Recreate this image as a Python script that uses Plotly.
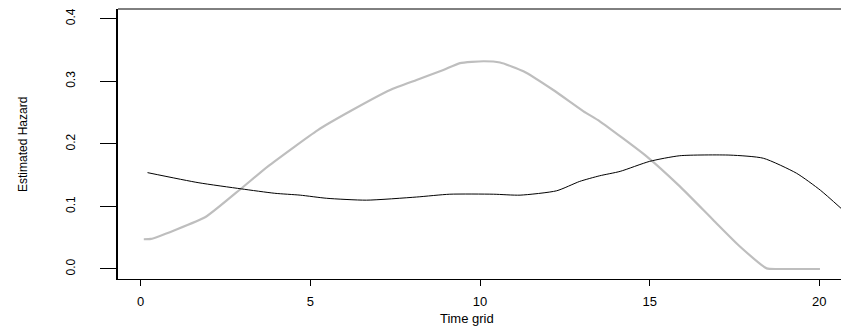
import plotly.graph_objects as go

# Gray curve (estimated hazard, series 1)
gray_t = [0.09, 0.3, 1.0, 1.91, 2.97, 3.75, 5.22, 6.17, 7.35, 8.13, 8.92, 9.41, 10.1,
          10.59, 11.28, 12.16, 13.05, 13.53, 14.91, 15.89, 16.88, 17.66, 18.45, 18.75,
          19.3, 20.02]
gray_h = [0.0475, 0.048, 0.062, 0.083, 0.129, 0.164, 0.222, 0.252, 0.286, 0.302, 0.318,
          0.329, 0.332, 0.330, 0.316, 0.286, 0.252, 0.236, 0.180, 0.132, 0.078, 0.036,
          0.001, 0.0, 0.0, 0.0]

# Black curve (estimated hazard, series 2)
black_t = [0.2, 1.69, 2.97, 3.95, 4.7, 5.48, 6.65, 8.13, 9.11, 10.4, 11.18, 12.26, 12.94,
           13.53, 14.13, 15.0, 15.89, 17.37, 18.35, 19.33, 20.03, 20.64]
black_h = [0.154, 0.138, 0.128, 0.121, 0.118, 0.113, 0.110, 0.115, 0.1195, 0.1195, 0.118,
           0.125, 0.140, 0.149, 0.156, 0.172, 0.181, 0.182, 0.177, 0.153, 0.126, 0.097]

x_ticks = [0, 5, 10, 15, 20]
y_ticks = [0.0, 0.1, 0.2, 0.3, 0.4]
y_tick_text = ["0.0", "0.1", "0.2", "0.3", "0.4"]

fig = go.Figure()
fig.add_trace(go.Scatter(x=gray_t, y=gray_h, mode="lines",
                         line=dict(color="#bebebe", width=2.2, shape="spline", smoothing=0.5),
                         showlegend=False))
fig.add_trace(go.Scatter(x=black_t, y=black_h, mode="lines",
                         line=dict(color="black", width=1, shape="spline", smoothing=0.6),
                         showlegend=False))

fig.update_layout(
    width=841, height=326,
    margin=dict(l=118, r=0, t=9, b=47),
    paper_bgcolor="white", plot_bgcolor="white",
    font=dict(family="Liberation Sans, Arial, sans-serif", color="black"),
    xaxis=dict(range=[-0.67, 20.64], tickvals=x_ticks, ticks="outside", ticklen=6,
               tickcolor="black", tickwidth=1, showline=True, linecolor="black",
               linewidth=1, showgrid=False, zeroline=False,
               tickfont=dict(size=13, family="Liberation Sans, Arial, sans-serif"),
               ticklabelstandoff=4),
    yaxis=dict(range=[-0.016, 0.4155], tickvals=y_ticks, ticktext=y_tick_text,
               ticks="outside", ticklen=16, tickcolor="black", tickwidth=1,
               showline=True, linecolor="black", linewidth=1.5, showgrid=False,
               zeroline=False, tickangle=-90,
               tickfont=dict(size=12, family="Liberation Sans Narrow, Arial Narrow, Liberation Sans, sans-serif"),
               ticklabelstandoff=20),
    shapes=[dict(type="line", xref="paper", yref="paper", x0=0, x1=1, y0=1, y1=1,
                 line=dict(color="black", width=1))],
    annotations=[
        dict(text="Time grid", xref="paper", yref="paper", x=0.483, y=-0.147,
             showarrow=False, xanchor="center", yanchor="middle",
             font=dict(size=13, family="Liberation Sans, Arial, sans-serif")),
        dict(text="Estimated Hazard", xref="paper", yref="paper", x=-0.1314, y=0.5,
             showarrow=False, xanchor="center", yanchor="middle", textangle=-90,
             font=dict(size=12, family="Liberation Sans Narrow, Arial Narrow, Liberation Sans, sans-serif")),
    ],
)

fig.write_html("out.html")
